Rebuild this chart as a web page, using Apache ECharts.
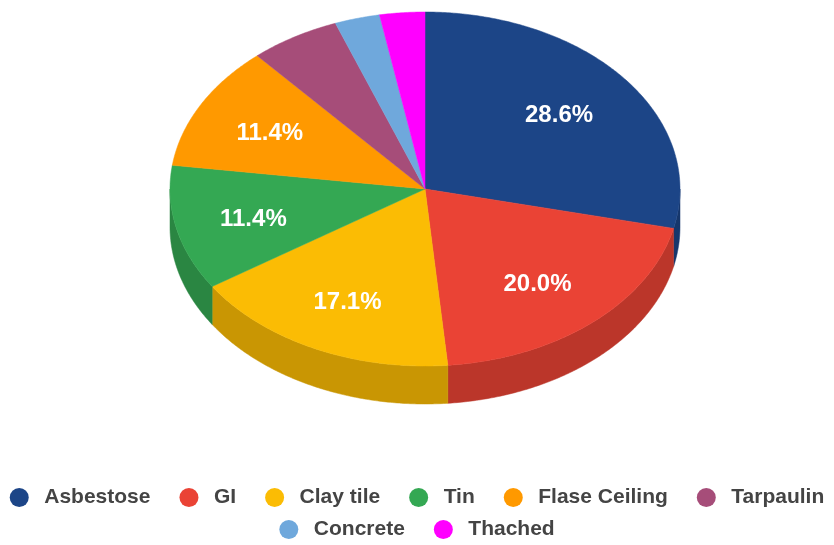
<!DOCTYPE html>
<html>
<head>
<meta charset="utf-8">
<script src="https://cdn.jsdelivr.net/npm/echarts@6/dist/echarts.min.js"></script>
<style>
  html, body { margin: 0; padding: 0; background: #fff; }
  #chart { width: 834px; height: 545px; }
</style>
</head>
<body>
<div id="chart"></div>
<script>
// Roofing material counts
const categories = ['Asbestose', 'GI', 'Clay tile', 'Tin', 'Flase Ceiling', 'Tarpaulin', 'Concrete', 'Thached'];
const counts = [10, 7, 6, 4, 4, 2, 1, 1];
const colors = ['#1c4587', '#ea4335', '#fbbc04', '#34a853', '#ff9900', '#a64d79', '#6fa8dc', '#ff00ff'];

// Tilted-pie geometry (top ellipse centre, radii, wall depth)
const CX = 425, CY = 189, RX = 255, RY = 177, DEPTH = 38;
// Ellipse on which the percentage labels sit
const LABEL_CX = 423, LABEL_CY = 192, LABEL_RX = 174, LABEL_RY = 123;
const MIN_LABEL_PCT = 10;
const FONT = 'Arial, "Liberation Sans", Helvetica, sans-serif';

const total = counts.reduce((a, b) => a + b, 0);
const startAngle = [];
counts.reduce((acc, v, i) => { startAngle[i] = acc / total * 360; return acc + v; }, 0);

function pt(deg, dy) {
  const r = deg * Math.PI / 180;
  return [CX + RX * Math.sin(r), CY - RY * Math.cos(r) + (dy || 0)];
}

function shade(hex, k) {
  const n = parseInt(hex.slice(1), 16);
  const c = [(n >> 16) & 255, (n >> 8) & 255, n & 255].map(v => Math.round(v * k));
  return 'rgb(' + c.join(',') + ')';
}

function arc(a0, a1, dy) {
  const pts = [];
  const steps = Math.max(2, Math.ceil((a1 - a0) / 0.5));
  for (let s = 0; s <= steps; s++) pts.push(pt(a0 + (a1 - a0) * s / steps, dy));
  return pts;
}

function renderSlice(params, api) {
  const i = api.value(1);
  const value = api.value(0);
  const a0 = startAngle[i];
  const a1 = a0 + value / total * 360;
  const color = colors[i];
  const children = [];

  // front wall: only the part of the rim facing the viewer (90°..270°)
  const s0 = Math.max(a0, 90), s1 = Math.min(a1, 270);
  if (s1 > s0) {
    const top = arc(s0, s1, 0);
    const bottom = arc(s0, s1, DEPTH).reverse();
    children.push({
      type: 'polygon',
      shape: { points: top.concat(bottom) },
      style: { fill: shade(color, 0.8), stroke: shade(color, 0.8), lineWidth: 0.5 }
    });
  }

  // top face
  children.push({
    type: 'polygon',
    shape: { points: [[CX, CY]].concat(arc(a0, a1, 0)) },
    style: { fill: color, stroke: color, lineWidth: 0.5 }
  });

  const pct = value / total * 100;
  if (pct >= MIN_LABEL_PCT) {
    const mid = (a0 + a1) / 2 * Math.PI / 180;
    children.push({
      type: 'text',
      style: {
        text: pct.toFixed(1) + '%',
        x: LABEL_CX + LABEL_RX * Math.sin(mid),
        y: LABEL_CY - LABEL_RY * Math.cos(mid),
        fill: '#ffffff',
        fontSize: 24,
        fontWeight: 'bold',
        fontFamily: FONT,
        align: 'center',
        verticalAlign: 'middle'
      }
    });
  }
  return { type: 'group', children: children };
}

const legendBase = {
  orient: 'horizontal',
  left: 'center',
  padding: 0,
  icon: 'circle',
  itemWidth: 40,
  itemHeight: 19,
  itemGap: 29,
  textStyle: { fontSize: 21, fontWeight: 'bold', color: '#444444', fontFamily: FONT }
};

const chart = echarts.init(document.getElementById('chart'));
chart.setOption({
  animation: false,
  color: colors,
  legend: [
    Object.assign({}, legendBase, { top: 487, data: categories.slice(0, 6) }),
    Object.assign({}, legendBase, { top: 519, data: categories.slice(6) })
  ],
  series: categories.map((name, i) => ({
    type: 'custom',
    name: name,
    coordinateSystem: 'none',
    itemStyle: { color: colors[i] },
    data: [[counts[i], i]],
    renderItem: renderSlice
  }))
});
</script>
</body>
</html>
